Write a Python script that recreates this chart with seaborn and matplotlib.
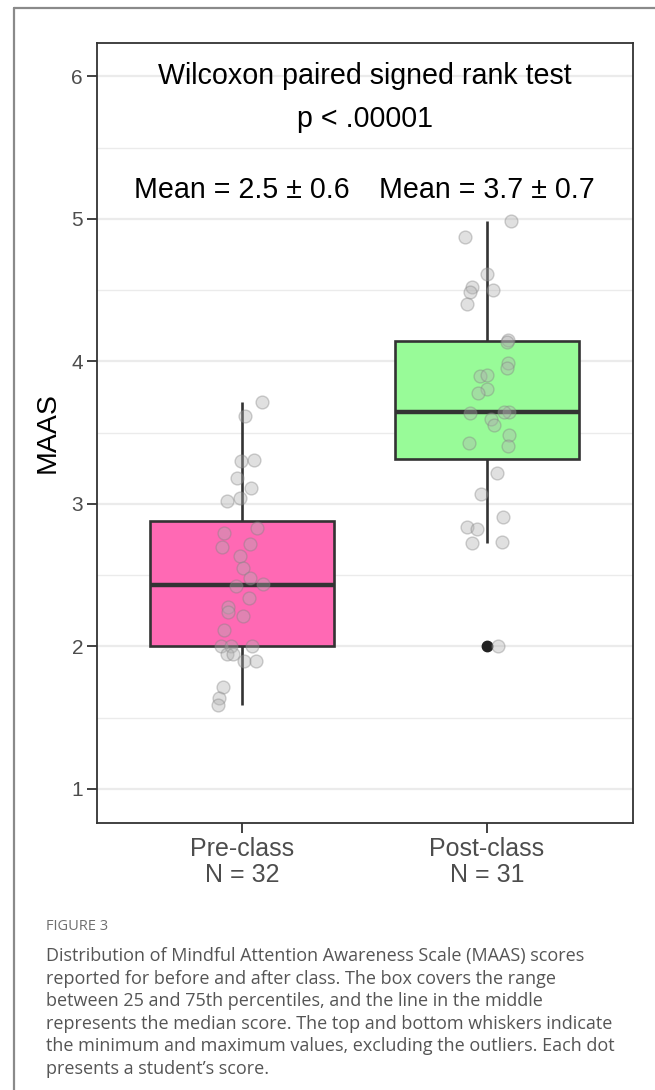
import numpy as np
import pandas as pd
import matplotlib
matplotlib.use("Agg")
import matplotlib.pyplot as plt
from matplotlib.lines import Line2D
import seaborn as sns

# ---- data ----
categories = ["Pre-class", "Post-class"]
pre_scores = [3.718, 3.62, 3.304, 3.307, 3.185, 3.115, 3.02, 3.04, 2.834, 2.794,
              2.696, 2.717, 2.637, 2.548, 2.48, 2.425, 2.44, 2.34, 2.28, 2.24,
              2.216, 2.116, 2.004, 2.0, 2.0, 1.947, 1.947, 1.90, 1.90, 1.718,
              1.637, 1.59]
pre_jitter = [0.080, 0.014, -0.004, 0.049, -0.020, 0.037, -0.060, -0.008, 0.060, -0.072,
              -0.083, 0.033, -0.008, 0.005, 0.033, -0.026, 0.087, 0.029, -0.056, -0.057,
              0.005, -0.072, -0.086, -0.046, 0.042, -0.063, -0.035, 0.010, 0.057, -0.076,
              -0.095, -0.099]
post_scores = [4.986, 4.876, 4.614, 4.52, 4.486, 4.502, 4.404, 4.15, 4.14, 3.987,
               3.952, 3.898, 3.903, 3.807, 3.781, 3.64, 3.645, 3.643, 3.596, 3.554,
               3.482, 3.41, 3.426, 3.22, 3.068, 2.911, 2.841, 2.827, 2.724, 2.733,
               2.0]
post_jitter = [0.097, -0.090, -0.001, -0.063, -0.069, 0.023, -0.083, 0.087, 0.083, 0.084,
               0.080, -0.029, -0.001, 0.001, -0.035, -0.069, 0.091, 0.071, 0.016, 0.029,
               0.091, 0.087, -0.073, 0.042, -0.024, 0.067, -0.083, -0.042, -0.060, 0.060,
               0.044]
box_colors = ["#FF69B4", "#98FB98"]
y_ticks = [1, 2, 3, 4, 5, 6]
y_minor = [1.5, 2.5, 3.5, 4.5, 5.5]
title_lines = ["Wilcoxon paired signed rank test", "p < .00001"]
mean_labels = ["Mean = 2.5 \u00b1 0.6", "Mean = 3.7 \u00b1 0.7"]
caption_head = "FIGURE 3"
caption_lines = [
    "Distribution of Mindful Attention Awareness Scale (MAAS) scores",
    "reported for before and after class. The box covers the range",
    "between 25 and 75th percentiles, and the line in the middle",
    "represents the median score. The top and bottom whiskers indicate",
    "the minimum and maximum values, excluding the outliers. Each dot",
    "presents a student\u2019s score.",
]

df = pd.DataFrame({
    "group": [categories[0]] * len(pre_scores) + [categories[1]] * len(post_scores),
    "score": pre_scores + post_scores,
    "xpos": [0 + j for j in pre_jitter] + [1 + j for j in post_jitter],
})
counts = [len(pre_scores), len(post_scores)]

sns.set_theme(style="white")
plt.rcParams["font.family"] = ["Liberation Sans", "DejaVu Sans"]

fig = plt.figure(figsize=(6.55, 10.9), dpi=100)
ax = fig.add_axes([97 / 655, 1 - 823 / 1090, (633 - 97) / 655, (823 - 43) / 1090])

ax.set_yticks(y_minor, minor=True)
ax.grid(True, which="major", color="#EBEBEB", linewidth=1.6, zorder=0)
ax.grid(True, which="minor", axis="y", color="#EBEBEB", linewidth=1.0, zorder=0)
ax.set_axisbelow(True)

sns.boxplot(data=df, x="group", y="score", hue="group", order=categories,
            palette=box_colors, width=0.75, linewidth=1.9, linecolor="#333333",
            saturation=1, legend=False, showcaps=False, ax=ax,
            medianprops={"linewidth": 3.2, "color": "#333333"},
            flierprops={"marker": "o", "markerfacecolor": "#222222",
                        "markeredgecolor": "#222222", "markersize": 7.5})

sns.scatterplot(data=df, x="xpos", y="score", ax=ax, s=85, color="#b0b0b0",
                edgecolor="#808080", linewidth=1.0, alpha=0.38, zorder=5, legend=False)

ax.set_xlim(-0.592, 1.596)
ax.set_ylim(0.761, 6.235)
ax.set_yticks(y_ticks)
ax.set_yticklabels([str(t) for t in y_ticks])
ax.set_xticks([0, 1])
ax.set_xticklabels([f"{c}\nN = {n}" for c, n in zip(categories, counts)])
ax.set_xlabel("")
ax.set_ylabel("MAAS", fontsize=20.5, color="black", labelpad=8)

ax.tick_params(axis="y", which="major", length=7, width=1.3, color="#333333",
               labelsize=15, labelcolor="#4D4D4D", pad=3, left=True)
ax.tick_params(axis="y", which="minor", length=0)
ax.tick_params(axis="x", length=7, width=1.3, color="#333333", labelsize=18,
               labelcolor="#4D4D4D", pad=3, bottom=True)
for lab in ax.get_xticklabels():
    lab.set_linespacing(1.12)
for sp in ax.spines.values():
    sp.set_visible(True)
    sp.set_color("#333333")
    sp.set_linewidth(1.3)

# annotations in data coordinates
ax.text(0.5, 6.0, title_lines[0], ha="center", va="center", fontsize=20.6, color="black")
ax.text(0.5, 5.7, title_lines[1], ha="center", va="center", fontsize=20.6, color="black")
for i, lab in enumerate(mean_labels):
    ax.text(i, 5.2, lab, ha="center", va="center", fontsize=20.6, color="black")

# page frame
fig.add_artist(Line2D([14 / 655, 14 / 655], [0, 1 - 7.5 / 1090], transform=fig.transFigure,
                      color="#8a8a8a", linewidth=1.6))
fig.add_artist(Line2D([14 / 655, 1], [1 - 7.5 / 1090, 1 - 7.5 / 1090], transform=fig.transFigure,
                      color="#8a8a8a", linewidth=1.6))

# caption
fig.text(46 / 655, 1 - 927 / 1090, caption_head, ha="left", va="center",
         fontsize=10.5, color="#6f6f6f", family=["Open Sans", "DejaVu Sans"])
for i, line in enumerate(caption_lines):
    fig.text(46 / 655, 1 - (956 + 22.6 * i) / 1090, line, ha="left", va="center",
             fontsize=13.0, color="#555555", family=["Open Sans", "DejaVu Sans"])

fig.savefig("out.png", dpi=100)
